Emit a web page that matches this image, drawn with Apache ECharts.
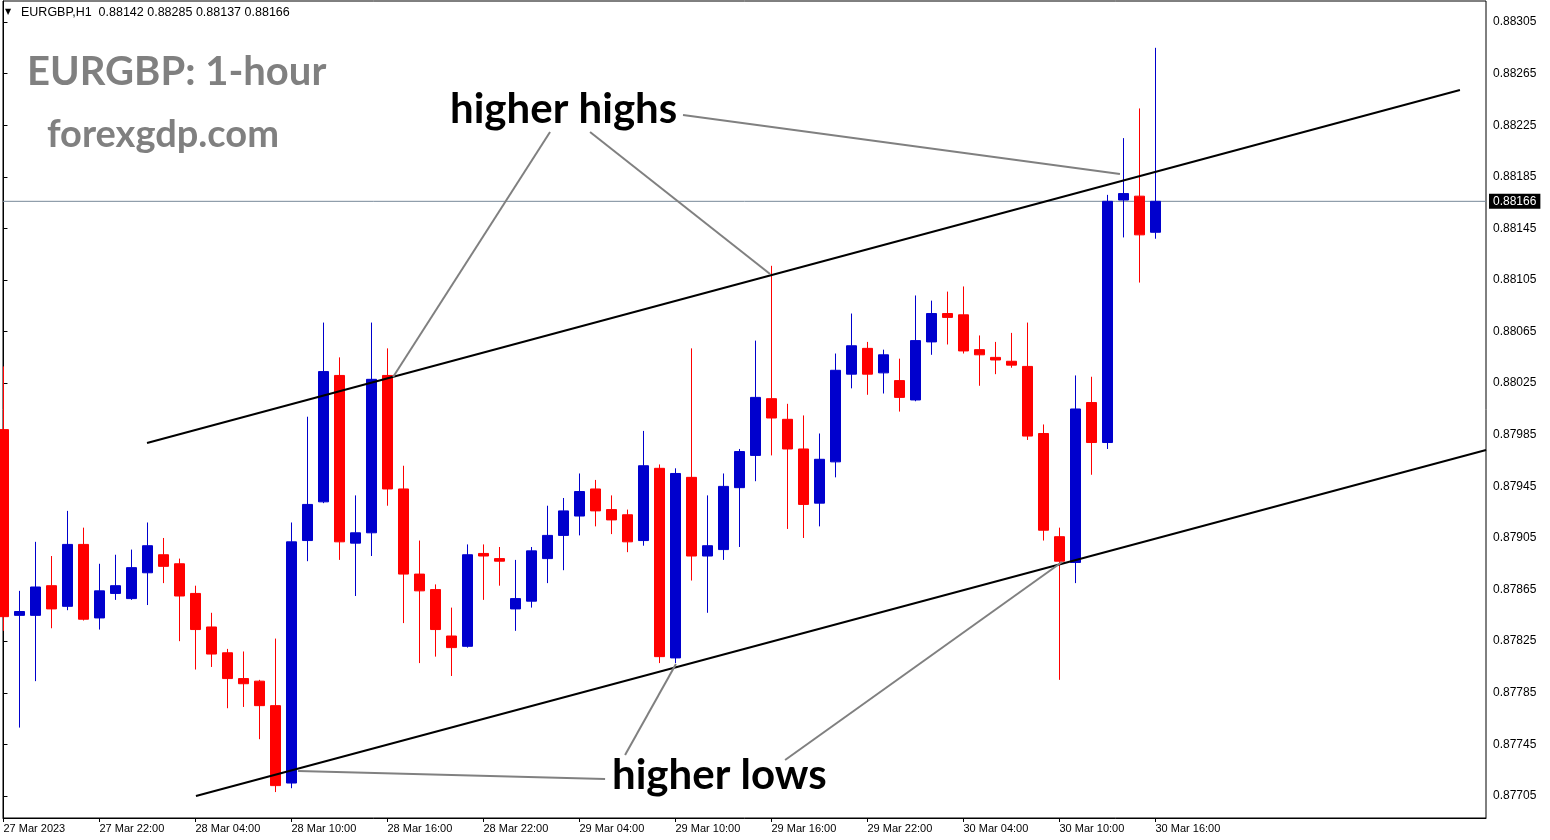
<!DOCTYPE html>
<html>
<head>
<meta charset="utf-8">
<script src="https://cdn.jsdelivr.net/npm/echarts@6/dist/echarts.min.js"></script>
<style>
html,body{margin:0;padding:0;background:#fff;}
#chart{width:1550px;height:840px;}
</style>
</head>
<body>
<div id="chart"></div>
<script>
// ---- data (EURGBP H1, candle 0 = 27 Mar 2023 16:00) ----
const opens = [0.87989,0.87845,0.87845,0.87868,0.87852,0.87900,0.87843,0.87862,0.87858,0.87878,
0.87892,0.87885,0.87862,0.87836,0.87816,0.87796,0.87794,0.87775,0.87715,0.87903,
0.87933,0.88031,0.87901,0.87909,0.88031,0.87943,0.87877,0.87865,0.87829,0.87821,
0.87893,0.87889,0.87850,0.87856,0.87889,0.87907,0.87922,0.87943,0.87927,0.87923,
0.87903,0.87959,0.87812,0.87952,0.87891,0.87896,0.87944,0.87969,0.88013,0.87997,
0.87974,0.87932,0.87964,0.88032,0.88052,0.88033,0.88027,0.88012,0.88057,0.88079,
0.88078,0.88051,0.88045,0.88042,0.88038,0.87986,0.87906,0.87886,0.88010,0.87979,
0.88167,0.88170,0.88142];
const highs = [0.88038,0.87864,0.87902,0.87891,0.87926,0.87913,0.87885,0.87892,0.87896,0.87917,
0.87905,0.87889,0.87868,0.87847,0.87819,0.87817,0.87795,0.87827,0.87917,0.87999,
0.88072,0.88045,0.87938,0.88072,0.88052,0.87961,0.87903,0.87869,0.87851,0.87900,
0.87900,0.87898,0.87888,0.87898,0.87930,0.87936,0.87955,0.87950,0.87938,0.87927,
0.87988,0.87962,0.87959,0.88052,0.87938,0.87955,0.87974,0.88058,0.88116,0.88009,
0.88000,0.87986,0.88048,0.88079,0.88057,0.88051,0.88044,0.88093,0.88089,0.88096,
0.88100,0.88062,0.88057,0.88064,0.88072,0.87993,0.87913,0.88031,0.88030,0.88171,
0.88215,0.88238,0.88285];
const lows = [0.87833,0.87758,0.87794,0.87835,0.87849,0.87841,0.87834,0.87857,0.87857,0.87853,
0.87870,0.87825,0.87803,0.87805,0.87773,0.87774,0.87749,0.87708,0.87711,0.87887,
0.87932,0.87888,0.87860,0.87891,0.87930,0.87839,0.87808,0.87813,0.87798,0.87820,
0.87857,0.87868,0.87833,0.87851,0.87870,0.87880,0.87907,0.87914,0.87908,0.87894,
0.87899,0.87808,0.87808,0.87872,0.87847,0.87888,0.87898,0.87949,0.87969,0.87912,
0.87905,0.87914,0.87952,0.88021,0.88016,0.88017,0.88003,0.88011,0.88047,0.88055,
0.88048,0.88023,0.88032,0.88037,0.87981,0.87903,0.87795,0.87870,0.87954,0.87974,
0.88138,0.88103,0.88137];
const closes = [0.87844,0.87848,0.87867,0.87850,0.87900,0.87842,0.87864,0.87868,0.87882,0.87899,
0.87883,0.87860,0.87834,0.87815,0.87796,0.87792,0.87775,0.87713,0.87902,0.87931,
0.88034,0.87902,0.87909,0.88028,0.87943,0.87877,0.87864,0.87834,0.87820,0.87892,
0.87891,0.87887,0.87858,0.87895,0.87907,0.87926,0.87941,0.87926,0.87919,0.87902,
0.87961,0.87813,0.87955,0.87891,0.87899,0.87945,0.87972,0.88014,0.87998,0.87974,
0.87931,0.87966,0.88035,0.88054,0.88032,0.88047,0.88014,0.88058,0.88079,0.88076,
0.88050,0.88047,0.88043,0.88039,0.87984,0.87911,0.87887,0.88005,0.87979,0.88166,
0.88172,0.88140,0.88166];

// x tick labels every 6 candles
const xTickIndex = [0,6,12,18,24,30,36,42,48,54,60,66,72];
const xTickLabels = ['27 Mar 2023','27 Mar 22:00','28 Mar 04:00','28 Mar 10:00','28 Mar 16:00','28 Mar 22:00',
  '29 Mar 04:00','29 Mar 10:00','29 Mar 16:00','29 Mar 22:00','30 Mar 04:00','30 Mar 10:00','30 Mar 16:00'];
// y tick labels
const yTickValues = [0.87705,0.87745,0.87785,0.87825,0.87865,0.87905,0.87945,0.87985,
  0.88025,0.88065,0.88105,0.88145,0.88185,0.88225,0.88265,0.88305];

// channel lines [index, price]
const upperChannel = [[8.97,0.879786],[91.03,0.882523]];
const lowerChannel = [[12.03,0.87705],[92.66,0.879732]];
// pointer lines from the annotations to the touch points
const pointers = [
  [[34.16,0.882197],[24.35,0.880298]],
  [[36.66,0.882197],[47.91,0.881096]],
  [[42.47,0.882329],[69.78,0.881872]],
  [[18.41,0.877244],[37.60,0.877182]],
  [[38.85,0.877368],[42.03,0.878073]],
  [[48.85,0.877329],[66.16,0.878864]]
];
const lastPrice = closes[closes.length-1];
const xMin = -0.03, xMax = 92.6575;

const candleData = opens.map((o,i)=>[i,o,closes[i],lows[i],highs[i]]);

const chart = echarts.init(document.getElementById('chart'), null, {renderer:'canvas'});

const series = [{
  type:'line',
  data:[[xMin,lastPrice],[xMax,lastPrice]],
  symbol:'none',
  silent:true,
  clip:false,
  z:1,
  lineStyle:{color:'#778899',width:1},
  endLabel:{
    show:true,distance:3,
    formatter:()=>lastPrice.toFixed(5),
    backgroundColor:'#000',color:'#fff',
    fontFamily:'Liberation Sans',fontSize:12,padding:[2,4,1,4]
  }
},{
  type:'candlestick',
  data:candleData,
  encode:{x:0,y:[1,2,3,4]},
  barWidth:11,
  clip:true,
  z:2,
  itemStyle:{color:'#0000CD',color0:'#FF0000',borderColor:'#0000CD',borderColor0:'#FF0000',borderWidth:1},
  emphasis:{disabled:true},
  silent:true
},{
  type:'line',
  data:upperChannel,
  symbol:'none',
  silent:true,
  clip:true,
  z:3,
  lineStyle:{color:'#000',width:2}
},{
  type:'line',
  data:lowerChannel,
  symbol:'none',
  silent:true,
  clip:true,
  z:3,
  lineStyle:{color:'#000',width:2}
}];
pointers.forEach(p=>{
  series.push({type:'line',data:p,symbol:'none',silent:true,clip:true,z:3,
    lineStyle:{color:'#808080',width:2}});
});

const option = {
  animation:false,
  backgroundColor:'#fff',
  grid:{left:3,right:64,top:1,bottom:22,show:true,borderColor:'#000',borderWidth:1,backgroundColor:'#fff'},
  xAxis:{
    type:'value',
    min:xMin, max:xMax,
    splitLine:{show:false},
    axisLine:{show:true,lineStyle:{color:'#000'}},
    axisTick:{show:true,customValues:xTickIndex,length:4,lineStyle:{color:'#000'}},
    axisLabel:{
      customValues:xTickIndex,
      formatter:(v)=>{const k=xTickIndex.indexOf(Math.round(v));return k>=0?xTickLabels[k]:'';},
      align:'left',margin:5,color:'#000',fontFamily:'Liberation Sans',fontSize:11
    }
  },
  yAxis:{
    type:'value',
    position:'right',
    min:0.876879, max:0.883213,
    scale:true,
    splitLine:{show:false},
    axisLine:{show:true,lineStyle:{color:'#000'}},
    axisTick:{show:true,customValues:yTickValues,length:4,lineStyle:{color:'#000'}},
    axisLabel:{
      customValues:yTickValues,
      formatter:(v)=>v.toFixed(5),
      margin:7,color:'#000',fontFamily:'Liberation Sans',fontSize:12
    }
  },
  graphic:[
    {type:'text',left:5,top:8,style:{text:'▼',fill:'#000',font:'8px "DejaVu Sans"'}},
    {type:'text',left:21,top:6,style:{text:'EURGBP,H1  0.88142 0.88285 0.88137 0.88166',fill:'#000',font:'12.5px "Liberation Sans"'}},
    {type:'text',x:27,y:72,style:{text:'EURGBP: 1-hour',fill:'#808080',font:'bold 40px Lato',verticalAlign:'middle'}},
    {type:'text',x:47,y:135,style:{text:'forexgdp.com',fill:'#808080',font:'bold 38px Lato',verticalAlign:'middle'}},
    {type:'text',x:450,y:109,style:{text:'higher highs',fill:'#000',font:'bold 42px Lato',verticalAlign:'middle'}},
    {type:'text',x:612,y:775,style:{text:'higher lows',fill:'#000',font:'bold 42px Lato',verticalAlign:'middle'}}
  ],
  series:series
};
chart.setOption(option);
</script>
</body>
</html>
